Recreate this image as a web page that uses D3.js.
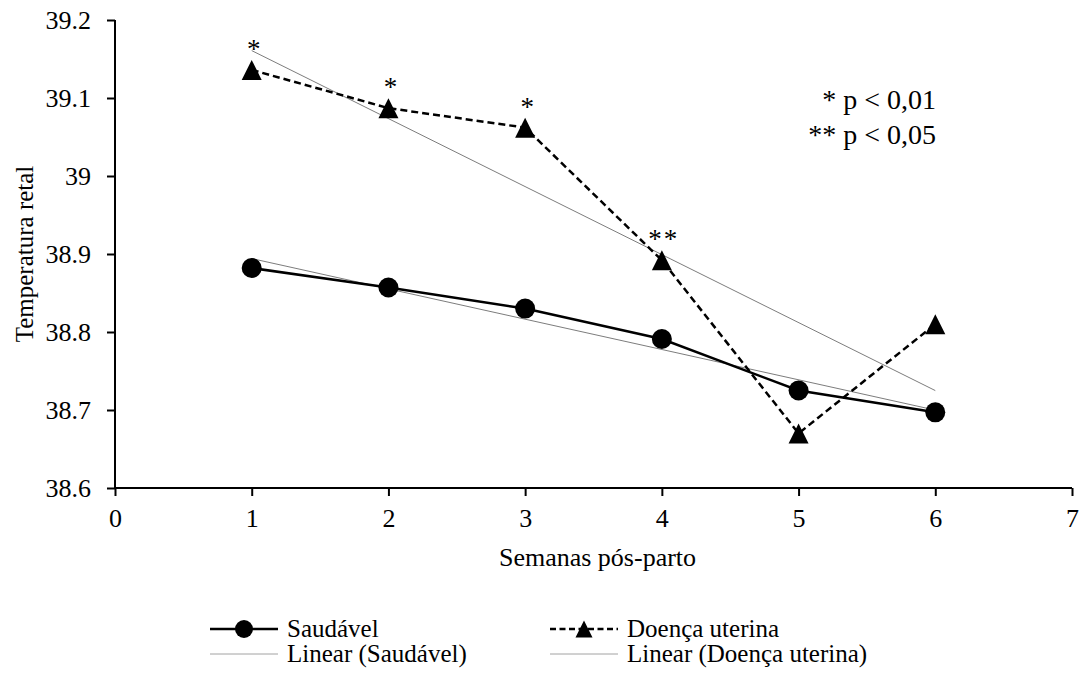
<!DOCTYPE html>
<html>
<head>
<meta charset="utf-8">
<script src="https://cdn.jsdelivr.net/npm/d3@7"></script>
<style>
  html, body { margin: 0; padding: 0; background: #fff; }
  svg { display: block; }
  text { font-family: "Liberation Serif", "Times New Roman", serif; fill: #000; }
</style>
</head>
<body>
<svg id="chart" width="1086" height="688"></svg>
<script>
// Weekly rectal temperature, healthy cows vs. cows with uterine disease
const weeks = [1, 2, 3, 4, 5, 6];
const saudavel = [38.882, 38.857, 38.830, 38.791, 38.725, 38.697];
const doenca = [39.136, 39.087, 39.062, 38.892, 38.670, 38.810];
const significance = ["*", "*", "*", "**", "", ""];
const xTicks = [0, 1, 2, 3, 4, 5, 6, 7];
const yTicks = [38.6, 38.7, 38.8, 38.9, 39.0, 39.1, 39.2];
const yTickLabels = ["38.6", "38.7", "38.8", "38.9", "39", "39.1", "39.2"];
const seriesNames = ["Saudável", "Doença uterina"];
const pNotes = ["* p < 0,01", "** p < 0,05"];

const svg = d3.select("#chart");
const x = d3.scaleLinear().domain([0, 7]).range([115, 1072]);
const y = d3.scaleLinear().domain([38.6, 39.2]).range([488, 20]);
const serif = "'Liberation Serif', 'Times New Roman', serif";

// Least-squares trend line
function linearFit(xs, ys) {
  const mx = d3.mean(xs), my = d3.mean(ys);
  const num = d3.sum(xs, (v, i) => (v - mx) * (ys[i] - my));
  const den = d3.sum(xs, v => (v - mx) * (v - mx));
  const b = num / den, a = my - b * mx;
  return xs.map(v => a + b * v);
}

// Axes
const yAxis = d3.axisLeft(y).tickValues(yTicks)
  .tickFormat((d, i) => yTickLabels[i]).tickSize(8).tickPadding(16);
const xAxis = d3.axisBottom(x).tickValues(xTicks)
  .tickFormat(d3.format("d")).tickSize(8).tickPadding(13);

const gy = svg.append("g").attr("transform", `translate(${x(0)},0)`).call(yAxis);
const gx = svg.append("g").attr("transform", `translate(0,${y(38.6)})`).call(xAxis);
[gx, gy].forEach(g => {
  g.select(".domain").attr("stroke", "#000").attr("stroke-width", 2);
  g.selectAll(".tick line").attr("stroke", "#000").attr("stroke-width", 2);
  g.selectAll(".tick text").attr("font-size", 26)
    .attr("font-family", serif).attr("fill", "#000");
});
gy.select(".domain").attr("d", `M0,${y(39.2)}V${y(38.6)}`);
gx.select(".domain").attr("d", `M${x(0)},0H${x(7)}`);

// Axis titles
svg.append("text")
  .attr("transform", `translate(33,${(y(38.6) + y(39.2)) / 2}) rotate(-90)`)
  .attr("text-anchor", "middle").attr("font-size", 25)
  .text("Temperatura retal");
svg.append("text")
  .attr("x", (x(0) + x(7)) / 2 + 4).attr("y", 566)
  .attr("text-anchor", "middle").attr("font-size", 26)
  .text("Semanas pós-parto");

// Trend lines
const line = d3.line().x(d => x(d[0])).y(d => y(d[1]));
const fitS = linearFit(weeks, saudavel);
const fitD = linearFit(weeks, doenca);
[fitS, fitD].forEach(fit => {
  svg.append("path")
    .datum([[weeks[0], fit[0]], [weeks[weeks.length - 1], fit[fit.length - 1]]])
    .attr("d", line).attr("fill", "none")
    .attr("stroke", "#5a5a5a").attr("stroke-width", 0.8);
});

// Series lines
svg.append("path").datum(weeks.map((w, i) => [w, saudavel[i]]))
  .attr("d", line).attr("fill", "none")
  .attr("stroke", "#000").attr("stroke-width", 2.5);
svg.append("path").datum(weeks.map((w, i) => [w, doenca[i]]))
  .attr("d", line).attr("fill", "none")
  .attr("stroke", "#000").attr("stroke-width", 2.5)
  .attr("stroke-dasharray", "7,4");

// Markers
function triangle(cx, cy, r) {
  return `M${cx},${cy - r}L${cx + r},${cy + r}L${cx - r},${cy + r}Z`;
}
svg.append("g").selectAll("circle").data(weeks).join("circle")
  .attr("cx", d => x(d)).attr("cy", (d, i) => y(saudavel[i]))
  .attr("r", 10).attr("fill", "#000");
svg.append("g").selectAll("path").data(weeks).join("path")
  .attr("d", (d, i) => triangle(x(d), y(doenca[i]), 10))
  .attr("fill", "#000");

// Significance labels above the disease series
svg.append("g").selectAll("text").data(weeks).join("text")
  .attr("x", d => x(d) + 2)
  .attr("y", (d, i) => y(doenca[i]) - 12)
  .attr("text-anchor", "middle").attr("font-size", 27)
  .attr("letter-spacing", (d, i) => significance[i].length > 1 ? 2 : 0)
  .text((d, i) => significance[i]);

// p-value note
pNotes.forEach((t, i) => {
  svg.append("text")
    .attr("x", 936).attr("y", 109 + i * 35)
    .attr("text-anchor", "end").attr("font-size", 28)
    .text(t);
});

// Legend
const legend = svg.append("g");
const rows = [629, 654];
const cols = [210, 550];
const sampleW = 68;
// row 1: series
legend.append("line").attr("x1", cols[0]).attr("x2", cols[0] + sampleW)
  .attr("y1", rows[0]).attr("y2", rows[0])
  .attr("stroke", "#000").attr("stroke-width", 2.5);
legend.append("circle").attr("cx", cols[0] + sampleW / 2).attr("cy", rows[0])
  .attr("r", 9).attr("fill", "#000");
legend.append("line").attr("x1", cols[1]).attr("x2", cols[1] + sampleW)
  .attr("y1", rows[0]).attr("y2", rows[0])
  .attr("stroke", "#000").attr("stroke-width", 2.5).attr("stroke-dasharray", "6,3.5");
legend.append("path").attr("d", triangle(cols[1] + sampleW / 2, rows[0], 8.5))
  .attr("fill", "#000");
// row 2: trend lines
[0, 1].forEach(c => {
  legend.append("line").attr("x1", cols[c]).attr("x2", cols[c] + sampleW)
    .attr("y1", rows[1]).attr("y2", rows[1])
    .attr("stroke", "#8a8a8a").attr("stroke-width", 0.8);
});
const legendLabels = [
  [seriesNames[0], cols[0], rows[0]],
  [seriesNames[1], cols[1], rows[0]],
  [`Linear (${seriesNames[0]})`, cols[0], rows[1]],
  [`Linear (${seriesNames[1]})`, cols[1], rows[1]]
];
legend.selectAll("text").data(legendLabels).join("text")
  .attr("x", d => d[1] + sampleW + 9).attr("y", d => d[2] + 8)
  .attr("font-size", 25)
  .text(d => d[0]);
</script>
</body>
</html>
